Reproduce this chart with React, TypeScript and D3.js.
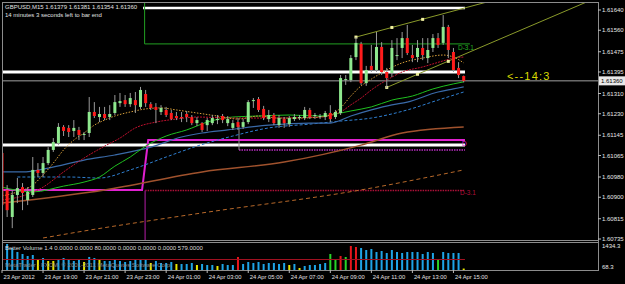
import React from 'react';
import * as d3 from 'd3';

const W = 625;
const H = 284;

// ---- OHLC data (GBPUSD M15), bar 0 = 23 Apr 17:00 ----
const open = [1.61075,1.60928,1.60822,1.60909,1.60940,1.60889,1.60909,1.61008,1.60996,1.61035,1.61087,1.61114,1.61178,1.61174,1.61162,1.61166,1.61146,1.61154,1.61237,1.61217,1.61229,1.61217,1.61233,1.61272,1.61284,1.61268,1.61284,1.61257,1.61308,1.61268,1.61257,1.61237,1.61245,1.61233,1.61221,1.61217,1.61229,1.61217,1.61193,1.61193,1.61185,1.61193,1.61205,1.61221,1.61193,1.61174,1.61197,1.61178,1.61197,1.61280,1.61288,1.61249,1.61209,1.61225,1.61185,1.61209,1.61189,1.61209,1.61213,1.61213,1.61245,1.61221,1.61217,1.61217,1.61233,1.61217,1.61233,1.61363,1.61363,1.61454,1.61506,1.61351,1.61419,1.61403,1.61494,1.61395,1.61391,1.61458,1.61490,1.61529,1.61462,1.61454,1.61490,1.61450,1.61490,1.61529,1.61510,1.61573,1.61474,1.61411,1.61379];
const high = [1.61087,1.60948,1.60928,1.60976,1.60956,1.60940,1.61059,1.61035,1.61059,1.61098,1.61134,1.61193,1.61185,1.61185,1.61205,1.61178,1.61158,1.61296,1.61276,1.61257,1.61257,1.61264,1.61304,1.61312,1.61304,1.61312,1.61316,1.61336,1.61324,1.61276,1.61272,1.61264,1.61257,1.61245,1.61237,1.61237,1.61241,1.61225,1.61217,1.61197,1.61213,1.61225,1.61225,1.61229,1.61221,1.61205,1.61213,1.61209,1.61284,1.61292,1.61296,1.61261,1.61245,1.61233,1.61225,1.61217,1.61221,1.61229,1.61225,1.61257,1.61253,1.61233,1.61229,1.61241,1.61264,1.61245,1.61383,1.61383,1.61462,1.61533,1.61514,1.61419,1.61502,1.61553,1.61513,1.61411,1.61521,1.61529,1.61553,1.61581,1.61502,1.61521,1.61529,1.61529,1.61545,1.61549,1.61620,1.61581,1.61490,1.61434,1.61381];
const low = [1.60830,1.60822,1.60778,1.60877,1.60849,1.60869,1.60901,1.60980,1.60980,1.61027,1.61079,1.61106,1.61142,1.61138,1.61138,1.61126,1.61126,1.61138,1.61213,1.61197,1.61205,1.61205,1.61225,1.61257,1.61257,1.61257,1.61233,1.61249,1.61257,1.61245,1.61193,1.61225,1.61217,1.61205,1.61205,1.61197,1.61197,1.61185,1.61181,1.61158,1.61162,1.61185,1.61189,1.61193,1.61181,1.61166,1.61166,1.61170,1.61189,1.61253,1.61237,1.61205,1.61197,1.61185,1.61174,1.61174,1.61178,1.61201,1.61205,1.61205,1.61209,1.61209,1.61209,1.61205,1.61197,1.61209,1.61225,1.61344,1.61355,1.61442,1.61344,1.61340,1.61395,1.61395,1.61383,1.61332,1.61375,1.61442,1.61450,1.61462,1.61434,1.61434,1.61442,1.61430,1.61474,1.61490,1.61502,1.61450,1.61395,1.61371,1.61354];
const close = [1.60869,1.60849,1.60909,1.60936,1.60917,1.60921,1.61008,1.60996,1.61035,1.61087,1.61118,1.61178,1.61162,1.61158,1.61174,1.61146,1.61150,1.61237,1.61221,1.61229,1.61213,1.61229,1.61276,1.61280,1.61268,1.61292,1.61264,1.61324,1.61272,1.61253,1.61245,1.61253,1.61225,1.61209,1.61213,1.61215,1.61217,1.61193,1.61205,1.61166,1.61205,1.61213,1.61209,1.61205,1.61209,1.61193,1.61178,1.61197,1.61276,1.61284,1.61245,1.61213,1.61225,1.61193,1.61213,1.61193,1.61213,1.61217,1.61217,1.61245,1.61217,1.61225,1.61221,1.61233,1.61209,1.61237,1.61371,1.61367,1.61450,1.61510,1.61351,1.61403,1.61403,1.61494,1.61395,1.61371,1.61490,1.61462,1.61529,1.61470,1.61450,1.61490,1.61462,1.61482,1.61529,1.61502,1.61573,1.61482,1.61403,1.61383,1.61360];

// ---- Better Volume ----
const volume = [1324,1434,1214,994,883,773,828,607,662,497,497,607,662,552,497,552,442,718,662,607,497,497,607,497,442,497,552,607,552,386,497,386,386,442,331,331,331,386,276,331,276,276,221,331,276,276,718,331,442,386,442,331,386,386,331,386,276,331,110,221,276,276,331,386,883,552,773,717,1324,1269,1214,1103,1158,993,1048,938,1103,993,938,993,993,993,883,993,938,607,993,938,938,938,80];
const volType = ['n','n','n','n','n','n','n','low','n','low','low','n','n','n','n','n','low','n','n','low','n','n','n','n','n','n','n','n','n','low','n','n','n','n','low','n','n','n','low','n','n','n','low','n','n','n','climax','n','n','n','n','n','n','n','n','n','low','n','low','n','n','n','n','n','churn','churn','climax','churn','climax','climax','n','n','n','n','n','n','n','n','n','n','n','n','n','n','n','churn','n','n','n','n','low'];
const volAverage = 579;
const volMax = 1434.3;
const volMinLabel = 68.3;

// ---- Moving averages: [bar, price] readings ----
const maFast = [[0,1.60905],[3,1.60921],[6,1.60948],[8,1.60988],[10,1.61035],[12,1.61087],[14,1.61126],[16,1.61154],[18,1.61185],[20,1.61205],[22,1.61221],[25,1.61237],[28,1.61249],[31,1.61253],[34,1.61245],[38,1.61233],[42,1.61221],[46,1.61209],[50,1.61221],[54,1.61213],[58,1.61213],[62,1.61217],[64,1.61225],[66,1.61253],[68,1.61300],[70,1.61340],[72,1.61367],[75,1.61403],[78,1.61431],[82,1.61450],[86,1.61462],[88,1.61454],[90,1.61431]];
const maRed = [[0,1.60889],[4,1.60905],[8,1.60940],[12,1.61000],[16,1.61055],[20,1.61102],[23,1.61134],[26,1.61174],[30,1.61197],[34,1.61209],[38,1.61217],[45,1.61213],[54,1.61213],[62,1.61217],[66,1.61237],[68,1.61265],[70,1.61292],[72,1.61324],[75,1.61363],[78,1.61395],[82,1.61415],[86,1.61439],[88,1.61450],[90,1.61454]];
const maGreen = [[0,1.60940],[6,1.60921],[12,1.60944],[16,1.60960],[19,1.60980],[22,1.61023],[25,1.61059],[28,1.61102],[32,1.61142],[36,1.61166],[40,1.61197],[45,1.61217],[50,1.61221],[56,1.61225],[62,1.61221],[65,1.61229],[68,1.61241],[72,1.61257],[76,1.61284],[80,1.61300],[84,1.61328],[88,1.61348],[90,1.61356]];
const maBlue = [[0,1.61000],[4,1.61000],[9,1.61015],[16,1.61047],[22,1.61067],[29,1.61098],[35,1.61138],[39,1.61154],[44,1.61166],[52,1.61185],[60,1.61193],[64,1.61193],[68,1.61221],[72,1.61245],[76,1.61265],[79,1.61276],[85,1.61316],[88,1.61328],[90,1.61336]];
const maBlueDash = [[3,1.60980],[13,1.60980],[19,1.60976],[25,1.61008],[32,1.61059],[38,1.61102],[45,1.61142],[52,1.61174],[60,1.61189],[66,1.61201],[72,1.61213],[79,1.61245],[85,1.61284],[90,1.61316]];
const maBrown = [[0,1.60877],[20,1.60929],[39,1.61000],[55,1.61039],[70,1.61106],[78,1.61154],[90,1.61178]];
const maBrownDash = [[8,1.60739],[17,1.60770],[39,1.60838],[70,1.60929],[90,1.61008]];

// ---- Levels / objects ----
const lastBarEnd = 90.25;
const whiteLevels = [1.61395, 1.61106];
const topLevel = 1.61648;
const greenLevel = 1.61506;
const magentaPath = [[-1,1.60929],[27.3,1.60929],[28.5,1.61126],[lastBarEnd,1.61126]];
const redLevel = 1.60927;
const purpleLevel = 1.61087;
const greyStubTop = 1.61185;
const currentPrice = 1.61360;
const channelUpper = [[69,1.61533],[97,1.61685]];
const channelLower = [[75,1.61334],[114,1.61672]];
const channelDots = [[69,1.61533],[76,1.61571],[82,1.61603],[75,1.61334],[81,1.61386],[87,1.61437]];

// ---- Axis labels ----
const priceTicks = [1.61640,1.61560,1.61475,1.61395,1.61310,1.61230,1.61145,1.61065,1.60980,1.60900,1.60815,1.60735];
const timeBars = [0,8,16,24,32,40,48,56,64,72,80,88];
const timeLabels = ['23 Apr 2012','23 Apr 19:00','23 Apr 21:00','23 Apr 23:00','24 Apr 01:00','24 Apr 03:00','24 Apr 05:00','24 Apr 07:00','24 Apr 09:00','24 Apr 11:00','24 Apr 13:00','24 Apr 15:00'];

const FONT = "'Liberation Sans', Arial, sans-serif";

export default function App() {
  const left = 2, right = 598, top = 2, mainBottom = 240, volTop = 242, volBottom = 270;
  const x = d3.scaleLinear().domain([0, 90]).range([2, 463.7]);
  const y = d3.scaleLinear().domain([1.60735, 1.61640]).range([239, 10]);
  const v = d3.scaleLinear().domain([0, volMax]).range([volBottom, 244]);

  const line = d3.line<number[]>().x(d => x(d[0])).y(d => y(d[1])).curve(d3.curveMonotoneX);
  const straight = d3.line<number[]>().x(d => x(d[0])).y(d => y(d[1]));

  const volColors: Record<string, string> = { n: '#1ea4e6', low: '#e6e600', climax: '#e8151b', churn: '#28d428' };

  const xEnd = x(lastBarEnd);
  const xStart = x(-1);

  return (
    <svg width={W} height={H} style={{ position: 'fixed', left: 0, top: 0, background: '#000', display: 'block' }}>
      <defs>
        <clipPath id="mainClip"><rect x={left} y={top} width={right - left} height={mainBottom - top} /></clipPath>
        <clipPath id="volClip"><rect x={left} y={volTop} width={right - left} height={volBottom - volTop} /></clipPath>
      </defs>
      <rect x={0} y={0} width={W} height={H} fill="#000" />

      <g clipPath="url(#mainClip)">
        {/* levels */}
        {whiteLevels.map((p, i) => (
          <line key={'wl' + i} x1={xStart} x2={xEnd} y1={y(p)} y2={y(p)} stroke="#ffffff" strokeWidth={3} />
        ))}
        <line x1={x(27.5)} x2={xEnd} y1={y(topLevel)} y2={y(topLevel)} stroke="#ffffff" strokeWidth={2.5} />
        <line x1={x(27.8)} x2={x(27.8)} y1={top} y2={y(greenLevel)} stroke="#22a022" strokeWidth={1} />
        <line x1={x(27.8)} x2={x(91.2)} y1={y(greenLevel)} y2={y(greenLevel)} stroke="#22a022" strokeWidth={1} />
        <path d={straight(magentaPath) || ''} fill="none" stroke="#e020d0" strokeWidth={2} />
        <line x1={x(27.9)} x2={xEnd} y1={y(redLevel)} y2={y(redLevel)} stroke="#b0103a" strokeWidth={1.5} strokeDasharray="1.5,1" />
        <line x1={x(27.9)} x2={x(27.9)} y1={y(redLevel)} y2={mainBottom} stroke="#7a1470" strokeWidth={1.5} />
        <line x1={x(46.2)} x2={xEnd} y1={y(purpleLevel)} y2={y(purpleLevel)} stroke="#8a2290" strokeWidth={2} strokeDasharray="1.5,1" />
        <line x1={x(46.2)} x2={x(46.2)} y1={y(greyStubTop)} y2={y(purpleLevel)} stroke="#909090" strokeWidth={1} />
        <line x1={left} x2={right} y1={y(currentPrice)} y2={y(currentPrice)} stroke="#a0a0a0" strokeWidth={1} />

        {/* moving averages */}
        <path d={line(maBrownDash) || ''} fill="none" stroke="#b8692a" strokeWidth={1} strokeDasharray="4,3" />
        <path d={line(maBrown) || ''} fill="none" stroke="#a0522d" strokeWidth={1.5} />
        <path d={line(maBlueDash) || ''} fill="none" stroke="#2f7fd0" strokeWidth={1} strokeDasharray="3,2" />
        <path d={line(maBlue) || ''} fill="none" stroke="#3a6aa8" strokeWidth={1.2} />
        <path d={line(maGreen) || ''} fill="none" stroke="#1fc01f" strokeWidth={1} />
        <path d={line(maRed) || ''} fill="none" stroke="#c0102e" strokeWidth={1} strokeDasharray="2,1" />
        <path d={line(maFast) || ''} fill="none" stroke="#d9a03a" strokeWidth={1} strokeDasharray="1.5,1.5" />

        {/* channel */}
        <path d={straight(channelUpper) || ''} fill="none" stroke="#8a9a2a" strokeWidth={1} />
        <path d={straight(channelLower) || ''} fill="none" stroke="#8a9a2a" strokeWidth={1} />
        {channelDots.map((d, i) => (
          <rect key={'cd' + i} x={x(d[0]) - 1.5} y={y(d[1]) - 1.5} width={3} height={3} fill="#f0f0a0" />
        ))}

        {/* candles */}
        {open.map((o, i) => {
          const c = close[i];
          const bull = c >= o;
          const cx = x(i);
          const yt = y(Math.max(o, c));
          const yb = y(Math.min(o, c));
          return (
            <g key={'c' + i}>
              <line x1={cx} x2={cx} y1={y(high[i])} y2={y(low[i])} stroke="#9a9a9a" strokeWidth={1} />
              <rect x={cx - 1.5} y={yt} width={3} height={Math.max(1, yb - yt)} fill={bull ? '#8ee88e' : '#ff1c1c'} />
            </g>
          );
        })}
      </g>

      {/* object labels */}
      <text x={458} y={50} fontFamily={FONT} fontSize={6.5} fill="#22b022">D-3.1</text>
      <text x={462} y={146} fontFamily={FONT} fontSize={6.5} fill="#e020d0">D</text>
      <text x={460} y={195} fontFamily={FONT} fontSize={6.5} fill="#b0103a">D-3.1</text>
      <text x={507} y={79.5} fontFamily={FONT} fontSize={11} letterSpacing={1.2} fill="#d8d800">{'<--14:3'}</text>

      {/* header */}
      <text x={5} y={9} fontFamily={FONT} fontSize={6} fill="#e0e0e0">GBPUSD,M15  1.61379 1.61381 1.61354 1.61360</text>
      <text x={5} y={17} fontFamily={FONT} fontSize={6} fill="#e0e0e0">14 minutes 3 seconds left to bar end</text>

      {/* volume */}
      <g clipPath="url(#volClip)">
        {volume.map((vv, i) => (
          <rect key={'v' + i} x={x(i) - 1} y={v(vv)} width={2} height={Math.max(1, volBottom - v(vv))} fill={volColors[volType[i]]} />
        ))}
        <line x1={xStart} x2={xEnd} y1={v(volAverage)} y2={v(volAverage)} stroke="#a01020" strokeWidth={1} />
      </g>
      <text x={5} y={250} fontFamily={FONT} fontSize={6} fill="#d8d8d8">Better Volume 1.4 0.0000 0.0000 80.0000 0.0000 0.0000 0.0000 579.0000</text>
      <text x={5} y={267} fontFamily={FONT} fontSize={6} fill="#8a8a8a">MetaTrader - FXCM, © 2001-2011 MetaQuotes Software Corp.</text>

      {/* frame */}
      <rect x={left + 0.5} y={top + 0.5} width={right - left} height={volBottom - top} fill="none" stroke="#8c8c8c" strokeWidth={1} />
      <line x1={left} x2={right} y1={mainBottom + 0.5} y2={mainBottom + 0.5} stroke="#8c8c8c" />
      <line x1={left} x2={right} y1={volTop + 0.5} y2={volTop + 0.5} stroke="#8c8c8c" />

      {/* price axis */}
      {priceTicks.map((p, i) => (
        <g key={'pt' + i}>
          <line x1={right} x2={right + 3} y1={y(p)} y2={y(p)} stroke="#bbbbbb" />
          <text x={602} y={y(p)} dy="0.35em" fontFamily={FONT} fontSize={6} fill="#e8e8e8">{p.toFixed(5)}</text>
        </g>
      ))}
      <rect x={599} y={y(currentPrice) - 4.5} width={26} height={9} fill="#e8e8e8" />
      <text x={601} y={y(currentPrice)} dy="0.35em" fontFamily={FONT} fontSize={6} fill="#000">{currentPrice.toFixed(5)}</text>

      {/* volume axis */}
      <text x={602} y={v(volMax) + 2} dy="0.35em" fontFamily={FONT} fontSize={6} fill="#e8e8e8">{volMax.toFixed(1)}</text>
      <text x={602} y={267} dy="0.35em" fontFamily={FONT} fontSize={6} fill="#e8e8e8">{volMinLabel.toFixed(1)}</text>

      {/* time axis */}
      {timeBars.map((b, i) => (
        <g key={'tt' + i}>
          <line x1={x(b)} x2={x(b)} y1={volBottom} y2={volBottom + 3} stroke="#bbbbbb" />
          <text x={x(b) + 1.5} y={279} fontFamily={FONT} fontSize={5.8} fill="#e0e0e0">{timeLabels[i]}</text>
        </g>
      ))}
    </svg>
  );
}
